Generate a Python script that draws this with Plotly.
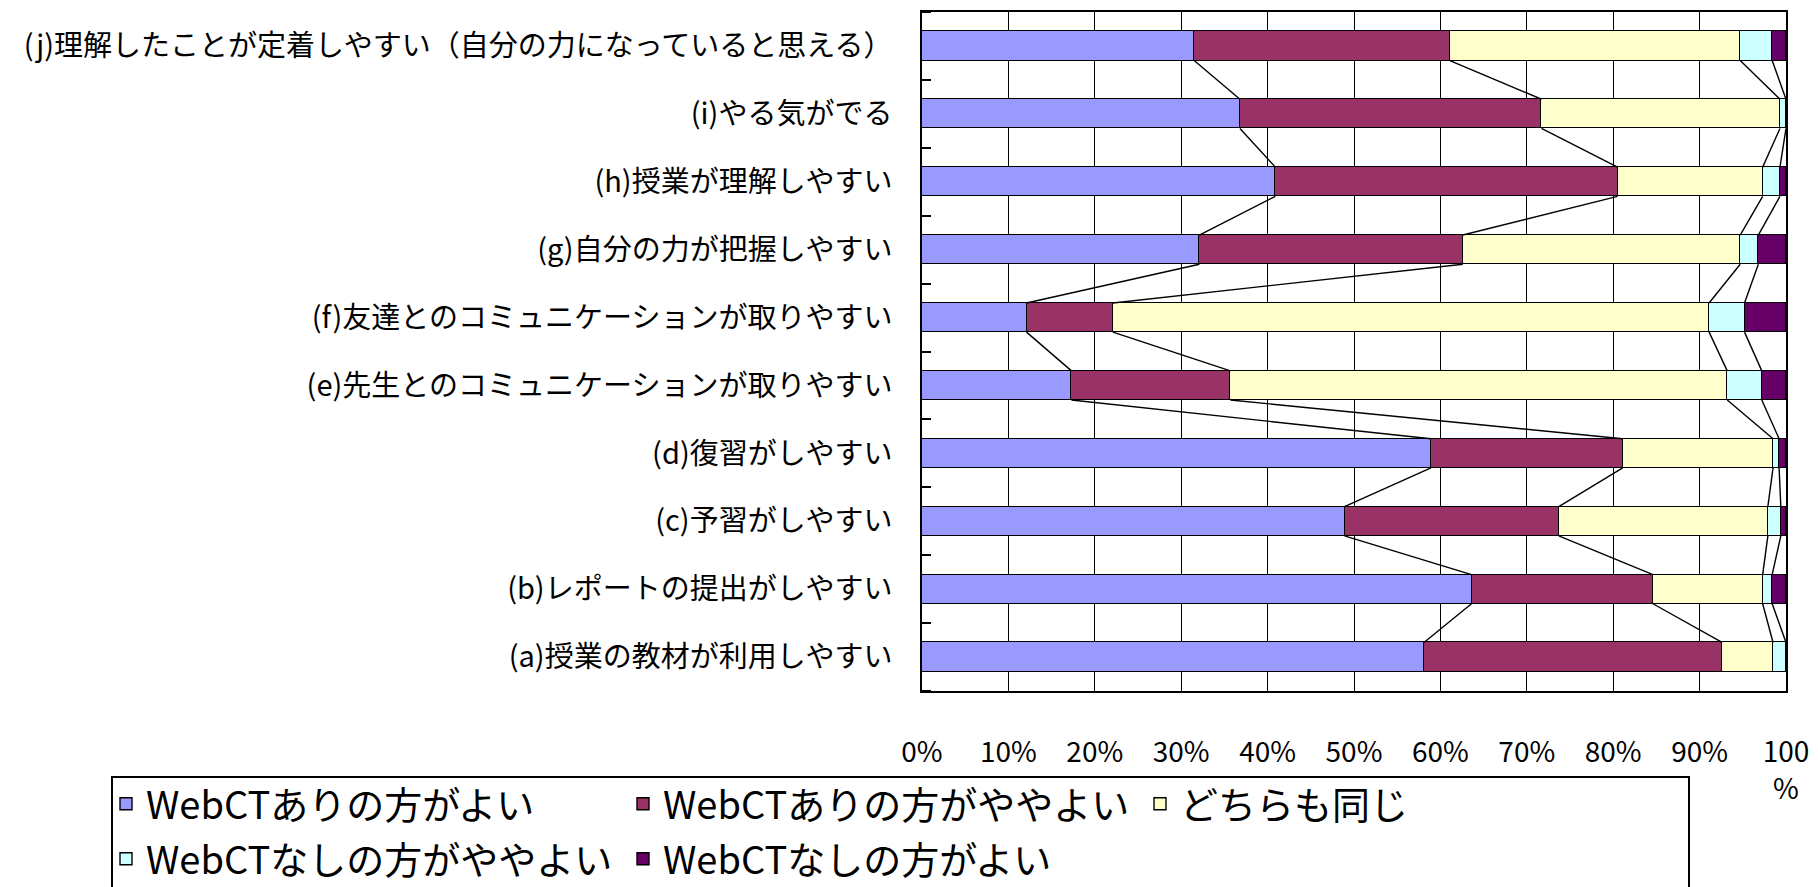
import numpy as np
import plotly.graph_objects as go

# ---- data (bottom -> top) ----
categories = [
    "(a)授業の教材が利用しやすい",
    "(b)レポートの提出がしやすい",
    "(c)予習がしやすい",
    "(d)復習がしやすい",
    "(e)先生とのコミュニケーションが取りやすい",
    "(f)友達とのコミュニケーションが取りやすい",
    "(g)自分の力が把握しやすい",
    "(h)授業が理解しやすい",
    "(i)やる気がでる",
    "(j)理解したことが定着しやすい（自分の力になっていると思える）",
]

series_names = [
    "WebCTありの方がよい",
    "WebCTありの方がややよい",
    "どちらも同じ",
    "WebCTなしの方がややよい",
    "WebCTなしの方がよい",
]

s1 = [58.1, 63.6, 48.9, 58.9, 17.3, 12.1, 32.1, 40.9, 36.8, 31.5]
s2 = [34.5, 21.0, 24.8, 22.2, 18.4, 10.0, 30.5, 39.6, 34.9, 29.6]
s3 = [5.9, 12.7, 24.2, 17.4, 57.5, 69.0, 32.1, 16.8, 27.6, 33.6]
s4 = [1.5, 1.1, 1.5, 0.7, 4.0, 4.1, 2.1, 2.0, 0.7, 3.7]
s5 = [0.0, 1.6, 0.6, 0.8, 2.8, 4.8, 3.2, 0.7, 0.0, 1.6]

x_tickvals = [0, 10, 20, 30, 40, 50, 60, 70, 80, 90, 100]
x_ticktext = ["0%", "10%", "20%", "30%", "40%", "50%", "60%", "70%", "80%", "90%", "100<br>%"]

# ---- styles ----
colors = ["#9999FF", "#993366", "#FFFFCC", "#CCFFFF", "#660066"]
legend_ids = ["legend", "legend", "legend", "legend2", "legend2"]
BAR_W = 0.43
FONT = "Noto Sans CJK JP"

pos = np.arange(len(categories))
series = [s1, s2, s3, s4, s5]

fig = go.Figure()
for name, vals, col, lg in zip(series_names, series, colors, legend_ids):
    fig.add_trace(go.Bar(
        x=vals, y=pos, orientation="h", name=name, width=BAR_W,
        marker=dict(color=col, line=dict(color="black", width=1.4)),
        legend=lg, hoverinfo="x+name",
    ))

# series lines connecting cumulative boundaries between adjacent bars
cum = np.cumsum(np.array(series), axis=0)
for k in range(len(series) - 1):
    xs, ys = [], []
    for i in range(len(pos) - 1):
        xs += [cum[k][i], cum[k][i + 1], None]
        ys += [pos[i] + BAR_W / 2, pos[i + 1] - BAR_W / 2, None]
    fig.add_trace(go.Scatter(x=xs, y=ys, mode="lines",
                             line=dict(color="black", width=1.4),
                             showlegend=False, hoverinfo="skip"))

W, H = 1818, 887
ML, MR, MT, MB = 922, 32, 12, 196
pw, ph = W - ML - MR, H - MT - MB


def px_x(p):
    return (p - ML) / pw


def px_y(p):
    return (H - MB - p) / ph


legend_common = dict(orientation="h", xanchor="left", yanchor="middle",
                     entrywidth=472, entrywidthmode="pixels",
                     traceorder="normal", font=dict(size=38),
                     bgcolor="rgba(0,0,0,0)", borderwidth=0)

fig.update_layout(
    width=W, height=H,
    margin=dict(l=ML, r=MR, t=MT, b=MB, pad=0, autoexpand=False),
    barmode="stack",
    bargap=0,
    plot_bgcolor="white", paper_bgcolor="white",
    font=dict(family=FONT, color="black", size=28),
    xaxis=dict(
        range=[0, 100], tickmode="array", tickvals=x_tickvals, ticktext=x_ticktext,
        showgrid=True, gridcolor="black", gridwidth=1.3, zeroline=False,
        showline=True, mirror=True, linecolor="black", linewidth=1.6,
        ticks="", ticklabelstandoff=36, tickfont=dict(size=28),
        automargin=False, fixedrange=True,
    ),
    yaxis=dict(
        range=[-0.5, len(categories) - 0.5], tickmode="array", tickvals=pos,
        ticktext=categories, showgrid=False, zeroline=False,
        showline=True, mirror=True, linecolor="black", linewidth=1.6,
        ticks="", ticklabelstandoff=22, tickfont=dict(size=29),
        minor=dict(tickmode="array", tickvals=list(pos - 0.5) + [pos[-1] + 0.5],
                   ticks="inside", ticklen=9, tickwidth=1.5, tickcolor="black",
                   showgrid=False),
        automargin=False, fixedrange=True,
    ),
    legend=dict(x=px_x(106), y=px_y(804), **legend_common),
    legend2=dict(x=px_x(106), y=px_y(859), **legend_common),
    shapes=[dict(type="rect", xref="paper", yref="paper",
                 x0=px_x(112), x1=px_x(1689), y0=px_y(910), y1=px_y(777),
                 line=dict(color="black", width=2), fillcolor="rgba(0,0,0,0)",
                 layer="below")],
)

fig.write_html("out.html")
